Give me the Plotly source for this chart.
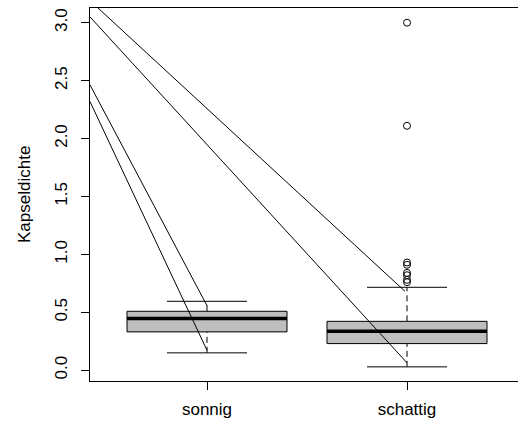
import plotly.graph_objects as go

categories = ["sonnig", "schattig"]
cat_pos = [1, 2]
q1 = [0.331, 0.230]
median = [0.446, 0.336]
q3 = [0.509, 0.422]
whisk_lo = [0.150, 0.029]
whisk_hi = [0.595, 0.716]
outliers_schattig = [3.0, 2.11, 0.93, 0.91, 0.84, 0.82, 0.78, 0.76]

# guide lines (start x, start y, end x, end y)
line_x0 = [0.455, 0.415, 0.415, 0.415]
line_y0 = [3.127, 3.050, 2.463, 2.319]
line_x1 = [1.99, 2.0, 1.0, 1.0]
line_y1 = [0.681, 0.064, 0.557, 0.172]

yticks = [0.0, 0.5, 1.0, 1.5, 2.0, 2.5, 3.0]
ytick_text = ["0.0", "0.5", "1.0", "1.5", "2.0", "2.5", "3.0"]

BOXW = 0.4
CAPW = 0.2
FONT = "Liberation Sans, Arial, sans-serif"
FS = 17

fig = go.Figure()

for i, xc in enumerate(cat_pos):
    # whiskers (dashed)
    for a, b in [(q3[i], whisk_hi[i]), (whisk_lo[i], q1[i])]:
        fig.add_trace(go.Scatter(x=[xc, xc], y=[a, b], mode="lines",
                                 line=dict(color="black", width=1, dash="6px,4px"),
                                 hoverinfo="skip", showlegend=False))
    # caps
    for v in [whisk_lo[i], whisk_hi[i]]:
        fig.add_trace(go.Scatter(x=[xc - CAPW, xc + CAPW], y=[v, v], mode="lines",
                                 line=dict(color="black", width=1),
                                 hoverinfo="skip", showlegend=False))
    # box
    fig.add_trace(go.Scatter(x=[xc - BOXW, xc + BOXW, xc + BOXW, xc - BOXW, xc - BOXW],
                             y=[q1[i], q1[i], q3[i], q3[i], q1[i]],
                             mode="lines", fill="toself", fillcolor="#bebebe",
                             line=dict(color="black", width=1),
                             hoverinfo="skip", showlegend=False))
    # median
    fig.add_trace(go.Scatter(x=[xc - BOXW, xc + BOXW], y=[median[i], median[i]], mode="lines",
                             line=dict(color="black", width=3.5),
                             hoverinfo="skip", showlegend=False))

fig.add_trace(go.Scatter(x=[2] * len(outliers_schattig), y=outliers_schattig, mode="markers",
                         marker=dict(symbol="circle-open", size=7, color="black",
                                     line=dict(width=1, color="black")),
                         hoverinfo="skip", showlegend=False))

for x0, y0, x1, y1 in zip(line_x0, line_y0, line_x1, line_y1):
    fig.add_trace(go.Scatter(x=[x0, x1], y=[y0, y1], mode="lines",
                             line=dict(color="black", width=1),
                             hoverinfo="skip", showlegend=False))

fig.update_layout(
    width=518, height=425,
    margin=dict(l=90, r=0, t=8, b=43.5),
    paper_bgcolor="white", plot_bgcolor="white",
    font=dict(family=FONT, size=FS, color="black"),
    hovermode=False,
    xaxis=dict(range=[0.415, 2.555], tickvals=cat_pos, ticktext=categories,
               showgrid=False, zeroline=False, showline=True, mirror=True,
               linecolor="black", linewidth=1, ticks="outside", ticklen=8,
               tickcolor="black", tickfont=dict(size=FS), ticklabelstandoff=5),
    yaxis=dict(range=[-0.093, 3.127], tickvals=yticks, ticktext=ytick_text,
               showgrid=False, zeroline=False, showline=True, mirror=False,
               linecolor="black", linewidth=1, ticks="outside", ticklen=8,
               tickcolor="black", tickangle=-90, tickfont=dict(size=FS),
               ticklabelstandoff=7),
    annotations=[dict(text="Kapseldichte", xref="paper", yref="paper", x=0, y=0.5,
                      xshift=-65.5, textangle=-90, showarrow=False,
                      font=dict(size=FS), xanchor="center", yanchor="middle")],
)

# remove the browser's default 8px page margin so the figure fills the window
fig.write_html("out.html",
               config={"displayModeBar": False},
               post_script="document.body.style.margin='0';document.body.style.overflow='hidden';")
